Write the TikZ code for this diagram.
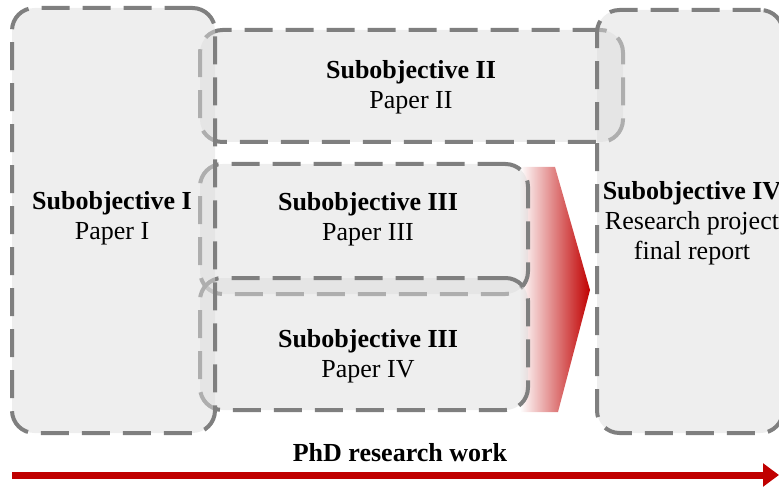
\documentclass[tikz,border=0pt]{standalone}
\usepackage{fontspec}
\setmainfont{Liberation Serif}
\usepackage{xcolor}
\usepackage{tikz}
\usetikzlibrary{positioning,arrows.meta}
\definecolor{phdgray}{HTML}{DDDDDD}
\definecolor{phdline}{HTML}{7F7F7F}
\definecolor{phdred}{HTML}{C00000}

\begin{document}
\begin{tikzpicture}[
  font=\fontsize{14.8}{17}\selectfont,
  objbox/.style={rectangle,rounded corners=0.45cm,draw=phdline,line width=0.08cm,
    dash pattern=on 0.56cm off 0.26cm,fill=phdgray,fill opacity=0.5},
  objtext/.style={align=center,text=black},
]
\useasboundingbox (0,0) rectangle (15.58,9.72);

% gradient chevron towards the final report
\shade[left color=white,right color=phdred] (10.4,6.38) -- (11.1,6.38) -- (11.8,3.92)
  -- (11.16,1.48) -- (10.4,1.48) -- cycle;

\node[objbox,minimum width=8.46cm,minimum height=2.24cm] (obj2) at (8.23,8.0) {};
\node[objbox,minimum width=6.56cm,minimum height=2.6cm] (obj3a) at (7.28,5.14) {};
\node[objbox,minimum width=6.56cm,minimum height=2.64cm] (obj3b) at (7.28,2.84) {};
\node[objbox,minimum width=3.72cm,minimum height=8.46cm] (obj4) at (13.8,5.29) {};
\node[objbox,minimum width=4.06cm,minimum height=8.5cm] (obj1) at (2.27,5.31) {};

\node[objtext] (txt1) at (2.24,5.36) {\textbf{Subobjective I}\\Paper I};
\node[objtext] (txt2) at (8.22,7.98) {\textbf{Subobjective II}\\Paper II};
\node[objtext] (txt3a) at (7.36,5.34) {\textbf{Subobjective III}\\Paper III};
\node[objtext] (txt3b) at (7.36,2.6) {\textbf{Subobjective III}\\Paper IV};
\node[objtext] (txt4) at (13.84,5.26) {\textbf{Subobjective IV}\\Research project\\final report};

% time line
\coordinate (start) at (0.24,0.22);
\coordinate (end) at (15.58,0.22);
\draw[phdred,line width=0.14cm,-{Triangle[length=0.32cm,width=0.45cm]}] (start) -- (end);
\node[font=\fontsize{14.8}{17}\selectfont\bfseries] (phd) at (8.0,0.66) {PhD research work};
\end{tikzpicture}
\end{document}
